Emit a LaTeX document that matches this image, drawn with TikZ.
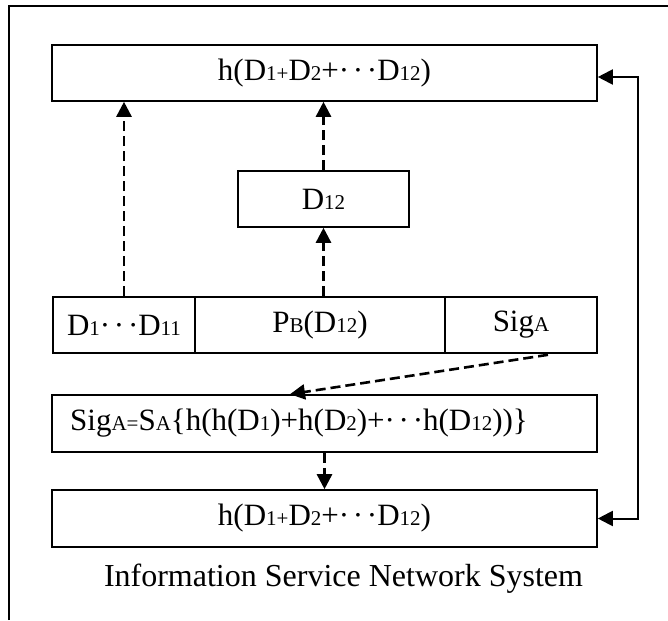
\documentclass[tikz,border=0pt]{standalone}
\usepackage{fontspec}
\setmainfont{Liberation Serif}
\usetikzlibrary{arrows.meta,calc}
% small indices set on the baseline
\newcommand{\sm}[1]{{\fontsize{21}{21}\selectfont #1}}
% centred ellipsis
\newcommand{\mdots}{·\kern0.12em·\kern0.12em·}

\begin{document}
\begin{tikzpicture}[x=1pt,y=-1pt,
  box/.style={draw, line width=1.6pt, minimum height=56pt, inner sep=0pt,
              font=\fontsize{31}{31}\selectfont},
  txt/.style={inner sep=0pt, font=\fontsize{31}{31}\selectfont},
  dasharrow/.style={line width=2.6pt, dash pattern=on 10pt off 5pt,
              -{Triangle[length=15pt,width=15pt]}},
  feed/.style={line width=2pt, line join=miter,
              {Triangle[length=15pt,width=15pt]}-{Triangle[length=15pt,width=15pt]}}]

\useasboundingbox (0,0) rectangle (668,620);

% outer frame
\draw[line width=1.3pt] (9,620) -- (9,6) -- (668,6);

% boxes
\node[box, minimum width=545pt] (top) at (324.5,73) {h(D\sm{1+}D\sm{2}+\mdots D\sm{12})};
\node[box, minimum width=171pt] (d12) at (323.5,199) {D\sm{12}};

\node[box, minimum width=142pt] (c1) at (124,325) {D\sm{1}\mdots D\sm{11}};
\node[box, minimum width=250pt] (c2) at (320,325) {P\sm{B}(D\sm{12})};
\node[box, minimum width=152pt] (c3) at (521,325) {Sig\sm{A}};

\node[box, minimum width=545pt, minimum height=57pt] (sig) at (324.5,423.5) {};
\node[txt, anchor=west] (sigtxt) at (70,423.5)
  {Sig\sm{A=}S\sm{A}\{h(h(D\sm{1})+h(D\sm{2})+\mdots h(D\sm{12}))\}};

\node[box, minimum width=545pt, minimum height=57pt] (bot) at (324.5,518.5) {h(D\sm{1+}D\sm{2}+\mdots D\sm{12})};

\node[txt, anchor=base, font=\fontsize{32}{32}\selectfont] (caption) at (343.5,586) {Information Service Network System};

% dashed flows
\draw[dasharrow] (c1.north) -- (top.south -| c1.north);
\draw[dasharrow] (c2.north -| d12.south) -- (d12.south);
\draw[dasharrow] (d12.north) -- (top.south -| d12.north);
\draw[dasharrow] ($(c3.south)+(27,1)$) -- ($(sig.north)+(-34.5,0)$);
\draw[dasharrow] (sig.south) -- (bot.north);

% feedback loop on the right
\coordinate (fbt) at (638,77);
\coordinate (fbb) at (638,518.5);
\draw[feed] (top.east |- fbt) -- (fbt) -- (fbb) -- (bot.east);
\end{tikzpicture}
\end{document}
